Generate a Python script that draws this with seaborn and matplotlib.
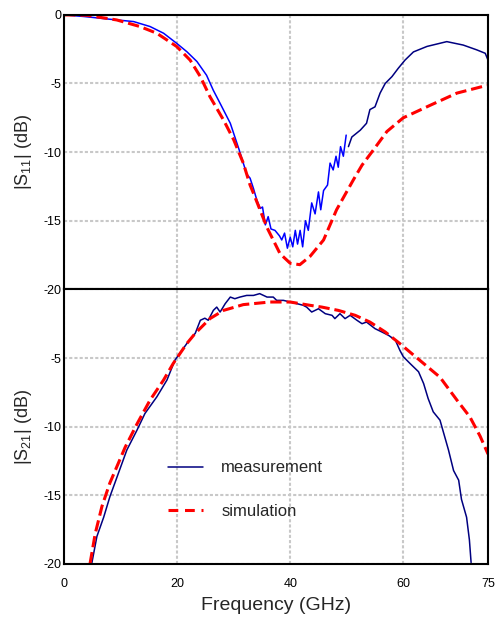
import matplotlib
matplotlib.use('Agg')
from matplotlib import pyplot as plt
from matplotlib.lines import Line2D
import seaborn as sns

# |S11| measured (GHz, dB); blue below 50 GHz, navy above
s11_meas_freq = [0, 3.5, 8.1, 12.3, 15.2, 17.6, 19.9, 21.7, 23.5, 25.2, 26.4, 27.6, 29.4,
                 31.1, 32.3, 32.9, 33.5, 34.1, 34.7, 35.1, 35.6, 36.1, 36.6, 37.3, 38.1,
                 38.5, 39.0, 39.5, 40.0, 40.45, 40.9, 41.3, 41.75, 42.2, 42.7, 43.2, 43.8,
                 44.4, 45.0, 45.4, 45.9, 46.6, 47.05, 47.6, 48.1, 48.5, 48.9, 49.4, 49.9,
                 50.3, 50.9, 52.4, 53.5, 54.1, 55.0, 55.9, 56.8, 58.0, 59.1, 60.3, 61.8,
                 64.2, 67.7, 70.6, 73.0, 74.5, 75.0]
s11_meas_db = [0, -0.12, -0.32, -0.49, -0.85, -1.34, -2.07, -2.68, -3.4, -4.4, -5.5, -6.45, -7.9,
               -10.0, -11.6, -11.9, -12.65, -13.5, -14.1, -14.0, -15.3, -14.7, -15.6, -15.7, -16.1,
               -16.4, -15.9, -17.0, -16.2, -16.9, -15.7, -16.7, -15.7, -16.9, -15.0, -15.7, -13.7,
               -14.5, -12.9, -14.2, -12.8, -12.4, -10.8, -11.3, -10.3, -11.1, -9.6, -10.3, -8.76,
               -9.6, -8.9, -8.4, -7.9, -6.9, -6.7, -5.7, -5.0, -4.5, -3.9, -3.3, -2.7,
               -2.3, -1.95, -2.2, -2.55, -2.8, -3.3]
s11_split = 50.0

s11_sim_freq = [0, 4.0, 9.3, 13.4, 16.4, 19.9, 22.3, 24.1, 25.8, 28.2, 30.0, 31.7, 32.9, 33.5,
                35.9, 38.2, 40.0, 41.7, 43.5, 45.9, 48.2, 51.2, 52.7, 54.7, 57.1, 60.0, 64.7,
                69.5, 74.2, 75.0]
s11_sim_db = [0, -0.03, -0.37, -0.85, -1.34, -2.3, -3.3, -4.5, -5.96, -7.66, -9.1, -10.8, -12.4, -13.0,
              -15.5, -17.4, -18.1, -18.2, -17.6, -16.4, -14.2, -12.0, -10.95, -9.85, -8.5, -7.5, -6.6,
              -5.7, -5.2, -5.15]

s21_meas_freq = [4.9, 5.8, 7.0, 8.1, 9.6, 11.1, 12.9, 14.3, 16.4, 18.2, 19.6, 21.7, 23.2, 24.1,
                 24.9, 25.5, 26.4, 27.0, 27.6, 28.5, 29.4, 30.2, 31.1, 32.3, 33.5, 34.6, 35.9,
                 37.0, 37.6, 38.8, 40.0, 41.2, 42.3, 42.9, 43.8, 45.0, 46.2, 47.4, 47.9, 48.8,
                 49.7, 50.6, 51.8, 52.7, 53.5, 55.0, 56.2, 57.4, 58.6, 59.4, 60.0, 61.2, 62.7,
                 63.6, 64.4, 65.3, 66.5, 67.1, 68.0, 68.9, 69.8, 70.3, 71.2, 71.7, 72.0]
s21_meas_db = [-19.95, -18.0, -16.6, -15.1, -13.4, -11.7, -10.25, -9.04, -7.83, -6.6, -5.16, -3.95, -3.2, -2.25,
               -2.1, -2.25, -1.53, -1.29, -1.65, -1.04, -0.56, -0.68, -0.56, -0.44, -0.44, -0.31, -0.56,
               -0.56, -0.8, -0.8, -0.92, -1.04, -1.16, -1.29, -1.65, -1.41, -1.77, -1.89, -2.13, -1.77,
               -2.13, -1.89, -2.25, -2.5, -2.38, -2.86, -3.1, -3.35, -3.7, -4.44, -4.9, -5.4, -6.0,
               -6.86, -7.95, -8.92, -9.53, -10.4, -11.7, -13.2, -13.9, -15.3, -16.6, -18.25, -19.9]

s21_sim_freq = [4.6, 5.5, 6.7, 8.1, 10.8, 12.9, 15.2, 17.6, 19.3, 21.7, 23.2, 25.8, 28.2, 31.7,
                36.4, 40.0, 43.5, 45.6, 48.5, 51.5, 54.1, 56.8, 59.4, 63.6, 66.5, 69.5, 71.8,
                73.6, 75.0]
s21_sim_db = [-19.95, -17.8, -15.8, -14.1, -11.5, -9.8, -8.07, -6.6, -5.4, -3.95, -3.2, -2.13, -1.53, -1.11,
              -0.92, -0.92, -1.16, -1.29, -1.53, -1.89, -2.38, -3.1, -3.95, -5.4, -6.4, -8.07, -9.3,
              -10.7, -12.0]

x_ticks = [0, 20, 40, 60, 75]
y_ticks = [-20, -15, -10, -5, 0]

sns.set_style('white')
plt.rcParams['font.family'] = ['Liberation Sans', 'DejaVu Sans']
plt.rcParams['mathtext.default'] = 'regular'
plt.rcParams['axes.unicode_minus'] = False

BLUE = '#0000ff'
NAVY = '#000080'
RED = '#ff0000'

fig, (ax1, ax2) = plt.subplots(2, 1, figsize=(4.97, 6.19), dpi=100, sharex=True)
fig.subplots_adjust(left=0.129, right=0.982, top=0.976, bottom=0.089, hspace=0)

lo = [(f, d) for f, d in zip(s11_meas_freq, s11_meas_db) if f < s11_split]
hi = [(f, d) for f, d in zip(s11_meas_freq, s11_meas_db) if f >= s11_split]

sns.lineplot(x=[p[0] for p in lo], y=[p[1] for p in lo], ax=ax1, color=BLUE,
             linewidth=1.1, sort=False, estimator=None)
sns.lineplot(x=[p[0] for p in hi], y=[p[1] for p in hi], ax=ax1, color=NAVY,
             linewidth=1.1, sort=False, estimator=None)
sns.lineplot(x=s11_sim_freq, y=s11_sim_db, ax=ax1, color=RED, linewidth=2.2,
             linestyle='--', sort=False, estimator=None)

sns.lineplot(x=s21_meas_freq, y=s21_meas_db, ax=ax2, color=NAVY,
             linewidth=1.1, sort=False, estimator=None)
sns.lineplot(x=s21_sim_freq, y=s21_sim_db, ax=ax2, color=RED, linewidth=2.2,
             linestyle='--', sort=False, estimator=None)

for ax in (ax1, ax2):
    ax.set_xlim(0, 75)
    ax.set_ylim(-20, 0)
    ax.set_xticks(x_ticks)
    ax.set_yticks(y_ticks)
    ax.grid(True, color='#c8c8c8', linestyle=(0, (1.5, 1)), linewidth=1.5)
    ax.set_axisbelow(True)
    for s in ax.spines.values():
        s.set_color('black')
        s.set_linewidth(1.5)
    ax.tick_params(length=0, labelsize=9, colors='black')
    ax.tick_params(axis='y', pad=2)
    ax.tick_params(axis='x', pad=10)

ax1.set_yticklabels([str(t) for t in y_ticks])
ax2.set_yticklabels([str(t) for t in y_ticks[:-1]] + [''])
ax1.tick_params(axis='x', labelbottom=False)
ax2.set_xticklabels([str(t) for t in x_ticks])

ax1.set_ylabel('|S$_{11}$| (dB)', fontsize=13)
ax2.set_ylabel('|S$_{21}$| (dB)', fontsize=13)
ax1.yaxis.set_label_coords(-0.07, 0.5)
ax2.yaxis.set_label_coords(-0.07, 0.5)
ax1.set_xlabel('')
ax2.set_xlabel('Frequency (GHz)', fontsize=14, labelpad=5)

handles = [Line2D([], [], color=NAVY, linewidth=1.1),
           Line2D([], [], color=RED, linewidth=2.2, linestyle=(0, (3.2, 2.2)))]
if ax1.get_legend():
    ax1.get_legend().remove()
ax2.legend(handles, ['measurement', 'simulation'], loc='upper left',
           bbox_to_anchor=(0.245, 0.377), frameon=False, fontsize=12,
           handlelength=2.1, handletextpad=1.1, labelspacing=1.7,
           borderpad=0, borderaxespad=0)

fig.savefig('out.png', dpi=100)
plt.close(fig)
